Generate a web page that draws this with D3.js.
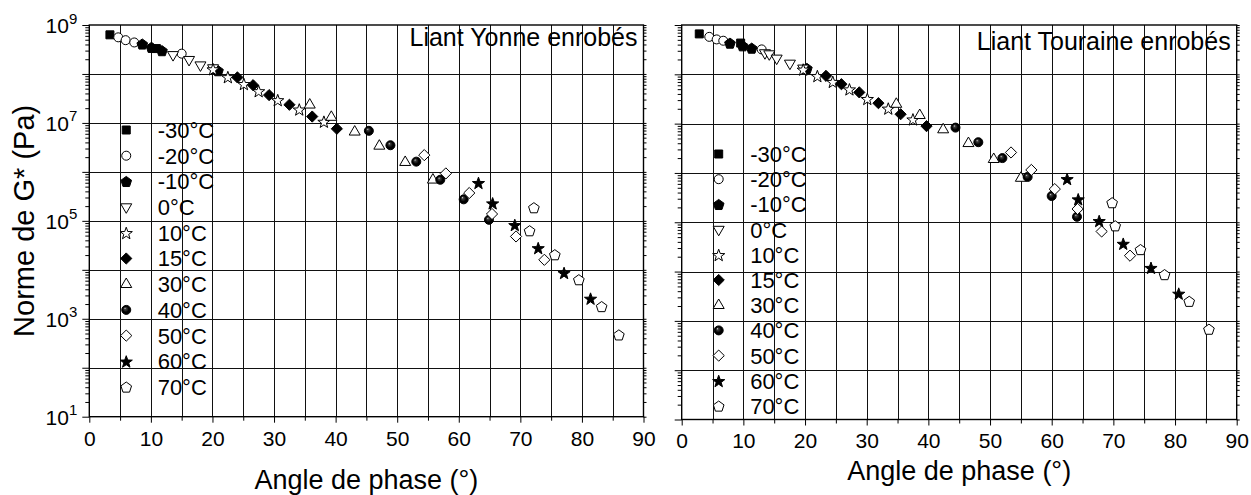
<!DOCTYPE html>
<html>
<head>
<meta charset="utf-8">
<script src="https://cdn.jsdelivr.net/npm/d3@7"></script>
<style>
  body { margin: 0; background: #fff; }
  text { font-family: Arial, "Liberation Sans", sans-serif; fill: #000; }
</style>
</head>
<body>
<script>
// temperatures, in legend order
var temps = ["-30°C", "-20°C", "-10°C", "0°C", "10°C", "15°C", "30°C", "40°C", "50°C", "60°C", "70°C"];
var shapes = ["square", "circle", "pentagon", "triDown", "star", "diamond", "triUp", "sphere", "diamond", "star", "pentagon"];
var filled = [true, false, true, false, false, true, false, true, false, true, false];

// Liant Yonne : phase angle (deg) and |G*| (Pa), one list per temperature
var yonnePhase = [
  [3.35, 10.9],
  [4.7, 5.9, 7.3, 15.0],
  [8.6, 10.1, 11.8, 20.9],
  [13.6, 16.2, 18.05, 20.1],
  [20.1, 22.5, 25.1, 27.5, 30.6, 34.1, 38.1],
  [24.05, 26.6, 29.2, 32.5, 36.2, 40.2],
  [35.8, 39.3, 43.1, 47.1, 51.3, 55.8],
  [45.4, 48.9, 53.1, 57.0, 60.8, 64.9],
  [54.4, 57.9, 61.7, 65.4, 69.3, 73.9],
  [63.2, 65.5, 69.1, 72.9, 77.1, 81.4],
  [72.2, 71.5, 75.6, 79.5, 83.2, 86.0]
];
var yonneG = [
  [6.3e8, 3.3e8],
  [5.6e8, 4.9e8, 4.4e8, 2.6e8],
  [4.1e8, 3.5e8, 3.0e8, 1.17e8],
  [2.45e8, 1.95e8, 1.51e8, 1.32e8],
  [1.26e8, 8.7e7, 6.3e7, 4.5e7, 2.95e7, 1.9e7, 1.07e7],
  [8.5e7, 5.9e7, 3.7e7, 2.35e7, 1.35e7, 7.6e6],
  [2.35e7, 1.32e7, 6.6e6, 3.4e6, 1.58e6, 6.9e5],
  [6.9e6, 3.5e6, 1.62e6, 6.9e5, 2.75e5, 1.05e5],
  [2.2e6, 9.3e5, 3.7e5, 1.38e5, 4.8e4, 1.6e4],
  [6.0e5, 2.3e5, 8.3e4, 2.8e4, 8.7e3, 2.6e3],
  [1.86e5, 6.3e4, 2.04e4, 6.3e3, 1.78e3, 4.7e2]
];

// Liant Touraine
var tourainePhase = [
  [2.85, 9.56],
  [4.47, 5.67, 6.74, 12.97],
  [7.83, 9.89, 11.35, 20.3],
  [13.5, 14.2, 15.4, 17.55, 19.7],
  [19.7, 22.0, 24.5, 27.2, 30.1, 33.5, 37.5],
  [23.4, 25.9, 28.8, 31.9, 35.5, 39.7],
  [34.8, 38.6, 42.4, 46.5, 50.6, 55.0],
  [44.4, 48.1, 52.0, 56.1, 60.0, 64.1],
  [53.4, 56.7, 60.5, 64.2, 68.1, 72.7],
  [62.5, 64.3, 67.7, 71.6, 76.1, 80.6],
  [69.8, 70.3, 74.4, 78.3, 82.3, 85.5]
];
var touraineG = [
  [6.6e8, 4.3e8],
  [5.75e8, 5.1e8, 4.8e8, 3.2e8],
  [4.3e8, 3.8e8, 3.4e8, 1.32e8],
  [2.7e8, 2.57e8, 2.1e8, 1.66e8, 1.32e8],
  [1.26e8, 9.3e7, 7.1e7, 5.0e7, 3.2e7, 2.04e7, 1.23e7],
  [9.3e7, 6.3e7, 4.3e7, 2.6e7, 1.55e7, 8.9e6],
  [2.5e7, 1.48e7, 7.6e6, 4.0e6, 1.9e6, 7.9e5],
  [8.3e6, 4.2e6, 2.0e6, 8.3e5, 3.4e5, 1.29e5],
  [2.6e6, 1.15e6, 4.7e5, 1.86e5, 6.5e4, 2.1e4],
  [7.6e5, 2.95e5, 1.07e5, 3.7e4, 1.2e4, 3.6e3],
  [2.5e5, 8.5e4, 2.8e4, 8.7e3, 2.5e3, 6.8e2]
];

var xTicks = [0, 10, 20, 30, 40, 50, 60, 70, 80, 90];
var yLabelExp = [9, 7, 5, 3, 1];

var width = 1251, height = 495;

var svg = d3.select("body").append("svg")
  .attr("width", width)
  .attr("height", height);

var grad = svg.append("defs").append("radialGradient")
  .attr("id", "sphere")
  .attr("cx", "0.5").attr("cy", "0.5").attr("r", "0.5")
  .attr("fx", "0.35").attr("fy", "0.3");
grad.append("stop").attr("offset", "0%").attr("stop-color", "#d8d8d8");
grad.append("stop").attr("offset", "22%").attr("stop-color", "#404040");
grad.append("stop").attr("offset", "65%").attr("stop-color", "#000");

function poly(pts) {
  return "M" + pts.map(function (p) { return p[0].toFixed(2) + "," + p[1].toFixed(2); }).join("L") + "Z";
}

function markerPath(shape) {
  var i, pts = [];
  switch (shape) {
    case "square":
      return poly([[-4, -4], [4, -4], [4, 4], [-4, 4]]);
    case "circle":
    case "sphere":
      return "M4.5,0A4.5,4.5 0 1,1 -4.5,0A4.5,4.5 0 1,1 4.5,0Z";
    case "pentagon":
      for (i = 0; i < 5; i++) {
        var a = -Math.PI / 2 + i * 2 * Math.PI / 5;
        pts.push([5.6 * Math.cos(a), 5.6 * Math.sin(a) + 0.6]);
      }
      return poly(pts);
    case "triDown":
      return poly([[-5.5, -3.3], [5.5, -3.3], [0, 6.2]]);
    case "triUp":
      return poly([[0, -6.2], [5.5, 3.3], [-5.5, 3.3]]);
    case "diamond":
      return poly([[0, -5.6], [5.6, 0], [0, 5.6], [-5.6, 0]]);
    case "star":
      for (i = 0; i < 10; i++) {
        var b = -Math.PI / 2 + i * Math.PI / 5;
        var r = i % 2 ? 2.6 : 6.4;
        pts.push([r * Math.cos(b), r * Math.sin(b) + 0.8]);
      }
      return poly(pts);
  }
}

function fillOf(i) {
  if (shapes[i] === "sphere") return "url(#sphere)";
  return filled[i] ? "#000" : "#fff";
}

function drawPanel(o) {
  var x = d3.scaleLinear().domain([0, 90]).range([o.left, o.right]);
  var y = d3.scaleLog().domain([10, 1e9]).range([o.bottom, o.top]);
  var g = svg.append("g");

  var decades = [1e1, 1e2, 1e3, 1e4, 1e5, 1e6, 1e7, 1e8, 1e9];
  var minors = [];
  for (var e = 1; e < 9; e++) {
    for (var m = 2; m < 10; m++) minors.push(m * Math.pow(10, e));
  }

  // grid
  g.selectAll(".vgrid").data(d3.range(5, 90, 5)).enter().append("line")
    .attr("x1", function (d) { return Math.round(x(d)) + 0.5; })
    .attr("x2", function (d) { return Math.round(x(d)) + 0.5; })
    .attr("y1", o.top).attr("y2", o.bottom)
    .attr("stroke", "#111").attr("stroke-width", 1);
  g.selectAll(".hgrid").data(decades.slice(1, 8)).enter().append("line")
    .attr("y1", function (d) { return Math.round(y(d)) + 0.5; })
    .attr("y2", function (d) { return Math.round(y(d)) + 0.5; })
    .attr("x1", o.left).attr("x2", o.right)
    .attr("stroke", "#111").attr("stroke-width", 1);

  // axes (ticks only, frame drawn separately)
  function tidy(sel) { sel.select(".domain").remove(); sel.selectAll("line").attr("stroke", "#000"); }

  var xb = g.append("g").attr("transform", "translate(0," + o.bottom + ")")
    .call(d3.axisBottom(x).tickValues(xTicks).tickSize(6).tickPadding(8).tickFormat(d3.format("d")));
  tidy(xb);
  xb.selectAll("text").attr("font-size", 21).attr("fill", "#000");
  var xm = g.append("g").attr("transform", "translate(0," + o.bottom + ")")
    .call(d3.axisBottom(x).tickValues(d3.range(5, 90, 10)).tickSize(4).tickFormat(""));
  tidy(xm);

  var yl = g.append("g").attr("transform", "translate(" + o.left + ",0)")
    .call(d3.axisLeft(y).tickValues(decades).tickSize(7).tickFormat(""));
  tidy(yl);
  var ylm = g.append("g").attr("transform", "translate(" + o.left + ",0)")
    .call(d3.axisLeft(y).tickValues(minors).tickSize(4).tickFormat(""));
  tidy(ylm);
  var yr = g.append("g").attr("transform", "translate(" + o.right + ",0)")
    .call(d3.axisRight(y).tickValues(decades.concat(minors)).tickSize(3).tickFormat(""));
  tidy(yr);

  if (o.yLabels) {
    g.selectAll(".ylab").data(yLabelExp).enter().append("text")
      .attr("x", o.left - 12)
      .attr("y", function (d) { return y(Math.pow(10, d)) + 8; })
      .attr("text-anchor", "end")
      .attr("font-size", 21)
      .each(function (d) {
        var t = d3.select(this);
        t.append("tspan").text("10");
        t.append("tspan").attr("dy", -9.5).attr("font-size", 15).text(d);
      });
    g.append("text")
      .attr("transform", "translate(34," + ((o.top + o.bottom) / 2) + ") rotate(-90)")
      .attr("text-anchor", "middle")
      .attr("font-size", 29)
      .text("Norme de G* (Pa)");
  }

  // frame
  g.append("rect")
    .attr("x", o.left).attr("y", o.top)
    .attr("width", o.right - o.left).attr("height", o.bottom - o.top)
    .attr("fill", "none").attr("stroke", "#000").attr("stroke-width", 1.4);

  // title
  g.append("text")
    .attr("x", o.right - 6).attr("y", o.titleY)
    .attr("text-anchor", "end").attr("font-size", 25)
    .text(o.title);

  // x label
  g.append("text")
    .attr("x", (o.left + o.right) / 2).attr("y", o.xLabelY)
    .attr("text-anchor", "middle").attr("font-size", 27)
    .text("Angle de phase (°)");

  // points
  temps.forEach(function (t, i) {
    var pts = o.phase[i].map(function (p, k) { return [p, o.g[i][k]]; });
    g.append("g").selectAll("path").data(pts).enter().append("path")
      .attr("transform", function (d) { return "translate(" + x(d[0]) + "," + y(d[1]) + ")"; })
      .attr("d", markerPath(shapes[i]))
      .attr("fill", fillOf(i))
      .attr("stroke", "#000").attr("stroke-width", 1);
  });

  // legend
  var lg = g.append("g");
  temps.forEach(function (t, i) {
    var yy = o.legendY + i * o.legendStep;
    lg.append("path")
      .attr("transform", "translate(" + x(6) + "," + yy + ")")
      .attr("d", markerPath(shapes[i]))
      .attr("fill", fillOf(i))
      .attr("stroke", "#000").attr("stroke-width", 1);
    lg.append("text")
      .attr("x", x(11.1)).attr("y", yy).attr("dy", "0.36em")
      .attr("font-size", 22)
      .text(t);
  });
}

drawPanel({
  left: 89.3, right: 643.5, top: 25, bottom: 416.7,
  phase: yonnePhase, g: yonneG,
  title: "Liant Yonne enrobés", titleY: 46,
  xLabelY: 489, yLabels: true,
  legendY: 130, legendStep: 25.7
});
drawPanel({
  left: 681.7, right: 1236.7, top: 25, bottom: 419.5,
  phase: tourainePhase, g: touraineG,
  title: "Liant Touraine enrobés", titleY: 50,
  xLabelY: 480, yLabels: false,
  legendY: 154, legendStep: 25.2
});
</script>
</body>
</html>
